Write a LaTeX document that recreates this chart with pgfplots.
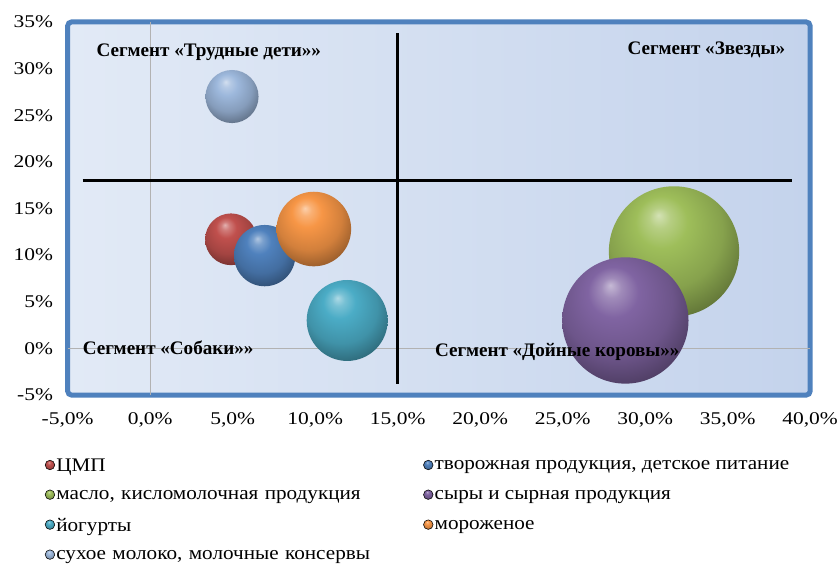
\documentclass[border=0pt]{standalone}
\usepackage{fontspec}
\setmainfont{Liberation Serif}
\newfontfamily\tickfont{Liberation Serif}[FakeStretch=1.2]
\newfontfamily\legfont{Liberation Serif}[FakeStretch=1.1]
\usepackage{pgfplots}
\pgfplotsset{compat=1.18}
\definecolor{cRed}{HTML}{C0504D}
\definecolor{cBlue}{HTML}{4F81BD}
\definecolor{cGreen}{HTML}{9EBE5A}
\definecolor{cPurple}{HTML}{8064A2}
\definecolor{cTeal}{HTML}{4BACC6}
\definecolor{cOrange}{HTML}{F79646}
\definecolor{cLight}{HTML}{9DB8DC}
\definecolor{frameblue}{HTML}{4F81BD}
\definecolor{bgL}{HTML}{E2EAF6}
\definecolor{bgR}{HTML}{C4D3EC}
\makeatletter
\pgfutil@colorlet{tikz@ball}{blue}
\pgfdeclareradialshading[tikz@ball]{xball}{\pgfqpoint{-6bp}{14bp}}{%
  color(0bp)=(tikz@ball!45!white); color(4bp)=(tikz@ball!75!white);
  color(10bp)=(tikz@ball); color(22bp)=(tikz@ball!85!black);
  color(32bp)=(tikz@ball!60!black); color(42bp)=(tikz@ball!40!black);
  color(50bp)=(tikz@ball!35!black)}
\newcommand{\declareball}[2]{%
  \pgfdeclareplotmark{#1}{%
    \pgfutil@colorlet{tikz@ball}{#2}%
    \pgfpathcircle{\pgfpointorigin}{\pgfplotmarksize}%
    \pgfshadepath{xball}{0}%
    \pgfusepath{discard}}}
\makeatother
\declareball{ballRed}{cRed}
\declareball{ballBlue}{cBlue}
\declareball{ballGreen}{cGreen}
\declareball{ballPurple}{cPurple}
\declareball{ballTeal}{cTeal}
\declareball{ballOrange}{cOrange}
\declareball{ballLight}{cLight}
\tikzset{legball/.style={ball color=#1, shading=xball}}
\newcommand{\segfont}{\fontsize{14.4}{16}\selectfont\bfseries}
\begin{document}
\begin{tikzpicture}
\begin{axis}[
  scale only axis, width=559.5pt, height=281.25pt,
  xmin=-5, xmax=40, ymin=-5, ymax=35,
  xtick={-5,0,...,40}, ytick={-5,0,...,35},
  major tick length=0pt,
  axis line style={draw=none},
  axis background/.style={draw=frameblue, line width=3.75pt, rounded corners=3pt, left color=bgL, right color=bgR},
  ticklabel style={font=\fontsize{13.5}{15}\tickfont},
  /pgf/number format/assume math mode=true,
  xticklabel={\pgfmathprintnumber[fixed,fixed zerofill,precision=1,use comma]{\tick}\%},
  yticklabel={\pgfmathprintnumber[fixed,precision=0]{\tick}\%},
  xticklabel style={yshift=-9.5pt},
  yticklabel style={xshift=-7.5pt},
  extra x ticks={0}, extra y ticks={0}, extra x tick labels={}, extra y tick labels={},
  extra tick style={grid=major, major grid style={draw=gray!60, line width=0.6pt}},
  clip=false,
  legend columns=2,
  legend cell align=left,
  legend style={at={(-0.031,-0.167)}, anchor=north west, draw=none, fill=none, inner sep=0pt,
    font=\fontsize{14.5}{16}\legfont, row sep=10.7pt, column sep=0pt,
    /tikz/column 2/.style={text width=275.5pt},
    nodes={inner sep=1pt}},
]
\coordinate (O) at (rel axis cs:0,0);
\coordinate (s1) at (axis cs:-3.26,31.8);
\coordinate (s2) at (axis cs:38.5,32.0);
\coordinate (s3) at (axis cs:-4.1,0.1);
\coordinate (s4) at (axis cs:17.25,-0.4);
\addplot[black, line width=1.9pt, forget plot] coordinates {(-4.1,18) (38.9,18)};
\addplot[black, line width=1.9pt, forget plot] coordinates {(15,33.8) (15,-3.8)};

\addplot[only marks, mark=ballRed, mark size=19.5pt,
  legend image code/.code={\shade[legball=cRed] (0,1pt) circle (3.6pt);}] coordinates {(4.9,11.7)};
\addlegendentry{ЦМП}
\addplot[only marks, mark=ballBlue, mark size=23.1pt,
  legend image code/.code={\shade[legball=cBlue] (0,1pt) circle (3.6pt);}] coordinates {(6.94,9.95)};
\addlegendentry{творожная продукция, детское питание}
\addplot[only marks, mark=ballGreen, mark size=49.1pt,
  legend image code/.code={\shade[legball=cGreen] (0,1pt) circle (3.6pt);}] coordinates {(31.75,10.4)};
\addlegendentry{масло, кисломолочная продукция}
\addplot[only marks, mark=ballPurple, mark size=47.6pt,
  legend image code/.code={\shade[legball=cPurple] (0,1pt) circle (3.6pt);}] coordinates {(28.8,3.0)};
\addlegendentry{сыры и сырная продукция}
\addplot[only marks, mark=ballTeal, mark size=30.5pt,
  legend image code/.code={\shade[legball=cTeal] (0,1pt) circle (3.6pt);}] coordinates {(11.94,3.0)};
\addlegendentry{йогурты}
\addplot[only marks, mark=ballOrange, mark size=28.1pt,
  legend image code/.code={\shade[legball=cOrange] (0,1pt) circle (3.6pt);}] coordinates {(9.92,12.8)};
\addlegendentry{мороженое}
\addplot[only marks, mark=ballLight, mark size=20pt,
  legend image code/.code={\shade[legball=cLight] (0,1pt) circle (3.6pt);}] coordinates {(4.96,27.0)};
\addlegendentry{сухое молоко, молочные консервы}
\end{axis}
\node[anchor=west, inner sep=0pt, font=\segfont] at (s1) {Сегмент «Трудные дети»»};
\node[anchor=east, inner sep=0pt, font=\segfont] at (s2) {Сегмент «Звезды»};
\node[anchor=west, inner sep=0pt, font=\segfont] at (s3) {Сегмент «Собаки»»};
\node[anchor=west, inner sep=0pt, font=\segfont] at (s4) {Сегмент «Дойные коровы»»};
\pgfresetboundingbox
\useasboundingbox (O) ++(-51pt,-127.5pt) rectangle ++(631.5pt,425.25pt);
\end{tikzpicture}
\end{document}
